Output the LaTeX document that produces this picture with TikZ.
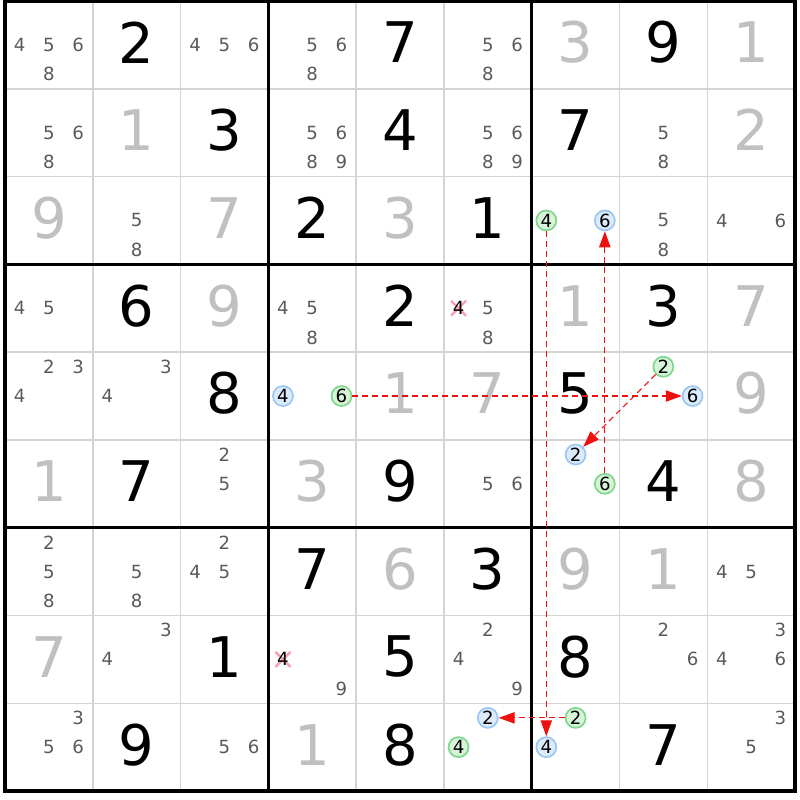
\documentclass[tikz,border=0pt]{standalone}
\usepackage{fontspec}
\setmainfont{DejaVu Sans}
\usetikzlibrary{arrows.meta}
\definecolor{solvedgray}{HTML}{C0C0C0}
\definecolor{candgray}{HTML}{5A5A5A}
\definecolor{thingrid}{HTML}{D4D4D4}
\definecolor{bluefill}{HTML}{DCEBFC}
\definecolor{blueline}{HTML}{9EC8F2}
\definecolor{greenfill}{HTML}{D8F4D8}
\definecolor{greenline}{HTML}{7ED88E}
\definecolor{xpink}{HTML}{F4A0B0}
\definecolor{linkred}{HTML}{F01010}
\tikzset{
  givenst/.style={inner sep=0pt, text=black, font=\fontsize{42}{42}\selectfont},
  solvedst/.style={inner sep=0pt, text=solvedgray, font=\fontsize{42}{42}\selectfont},
  candst/.style={inner sep=0pt, text=candgray, font=\fontsize{13.6}{14}\selectfont},
  crossdigit/.style={inner sep=0pt, text=black, font=\fontsize{13.6}{14}\selectfont},
  bluecirc/.style={circle, inner sep=0pt, minimum size=15pt, draw=blueline, fill=bluefill, line width=1.3pt, text=black, font=\fontsize{13.6}{14}\selectfont},
  greencirc/.style={circle, inner sep=0pt, minimum size=15pt, draw=greenline, fill=greenfill, line width=1.3pt, text=black, font=\fontsize{13.6}{14}\selectfont},
  xmark/.style={draw=xpink, line width=1.8pt},
  thinline/.style={draw=thingrid, line width=1.1pt},
  thickline/.style={draw=black, line width=2.3pt},
  link/.style={draw=linkred, line width=0.9pt, dash pattern=on 4.5pt off 3pt, -{Triangle[length=12pt,width=8.5pt]}}
}
\newcommand\givenD[3]{\node[givenst] (g#1#2) at ({5+(#2-0.5)*87.78},{1+(#1-0.5)*87.78-2.5}) {#3};}
\newcommand\solvedD[3]{\node[solvedst] (s#1#2) at ({5+(#2-0.5)*87.78},{1+(#1-0.5)*87.78-2.5}) {#3};}
\newcommand\cands[3]{\foreach \d in {#3}{\node[candst] (c#1#2n\d) at ({5+(#2-0.5)*87.78+(mod(\d-1,3)-1)*29.26},{1+(#1-0.5)*87.78+(div(\d-1,3)-1)*29.26}) {\d};}}
\newcommand\blueC[3]{\node[bluecirc] (c#1#2n#3) at ({5+(#2-0.5)*87.78+(mod(#3-1,3)-1)*29.26},{1+(#1-0.5)*87.78+(div(#3-1,3)-1)*29.26}) {#3};}
\newcommand\greenC[3]{\node[greencirc] (c#1#2n#3) at ({5+(#2-0.5)*87.78+(mod(#3-1,3)-1)*29.26},{1+(#1-0.5)*87.78+(div(#3-1,3)-1)*29.26}) {#3};}
\newcommand\crossC[3]{\coordinate (x#1#2n#3) at ({5+(#2-0.5)*87.78+(mod(#3-1,3)-1)*29.26},{1+(#1-0.5)*87.78+(div(#3-1,3)-1)*29.26});
  \draw[xmark] (x#1#2n#3) ++(-7.5,-7.5) -- ++(15,15);
  \draw[xmark] (x#1#2n#3) ++(-7.5,7.5) -- ++(15,-15);
  \node[crossdigit] (c#1#2n#3) at (x#1#2n#3) {#3};}
\begin{document}
\begin{tikzpicture}[x=0.75pt,y=-0.75pt]
\useasboundingbox (0,0) rectangle (800,800);
\fill[white] (0,0) rectangle (800,800);
% thin grid
\foreach \i in {1,2,4,5,7,8}{
  \draw[thinline] ({5+\i*87.78},1) -- ({5+\i*87.78},791);
  \draw[thinline] (5,{1+\i*87.78}) -- (795,{1+\i*87.78});
}
% row 1
\cands{1}{1}{4,5,6,8} \givenD{1}{2}{2} \cands{1}{3}{4,5,6} \cands{1}{4}{5,6,8} \givenD{1}{5}{7}
\cands{1}{6}{5,6,8} \solvedD{1}{7}{3} \givenD{1}{8}{9} \solvedD{1}{9}{1}
% row 2
\cands{2}{1}{5,6,8} \solvedD{2}{2}{1} \givenD{2}{3}{3} \cands{2}{4}{5,6,8,9} \givenD{2}{5}{4}
\cands{2}{6}{5,6,8,9} \givenD{2}{7}{7} \cands{2}{8}{5,8} \solvedD{2}{9}{2}
% row 3
\solvedD{3}{1}{9} \cands{3}{2}{5,8} \solvedD{3}{3}{7} \givenD{3}{4}{2} \solvedD{3}{5}{3}
\givenD{3}{6}{1} \greenC{3}{7}{4} \blueC{3}{7}{6} \cands{3}{8}{5,8} \cands{3}{9}{4,6}
% row 4
\cands{4}{1}{4,5} \givenD{4}{2}{6} \solvedD{4}{3}{9} \cands{4}{4}{4,5,8} \givenD{4}{5}{2}
\crossC{4}{6}{4} \cands{4}{6}{5,8} \solvedD{4}{7}{1} \givenD{4}{8}{3} \solvedD{4}{9}{7}
% row 5
\cands{5}{1}{2,3,4} \cands{5}{2}{3,4} \givenD{5}{3}{8} \blueC{5}{4}{4} \greenC{5}{4}{6}
\solvedD{5}{5}{1} \solvedD{5}{6}{7} \givenD{5}{7}{5} \greenC{5}{8}{2} \blueC{5}{8}{6} \solvedD{5}{9}{9}
% row 6
\solvedD{6}{1}{1} \givenD{6}{2}{7} \cands{6}{3}{2,5} \solvedD{6}{4}{3} \givenD{6}{5}{9}
\cands{6}{6}{5,6} \blueC{6}{7}{2} \greenC{6}{7}{6} \givenD{6}{8}{4} \solvedD{6}{9}{8}
% row 7
\cands{7}{1}{2,5,8} \cands{7}{2}{5,8} \cands{7}{3}{2,4,5} \givenD{7}{4}{7} \solvedD{7}{5}{6}
\givenD{7}{6}{3} \solvedD{7}{7}{9} \solvedD{7}{8}{1} \cands{7}{9}{4,5}
% row 8
\solvedD{8}{1}{7} \cands{8}{2}{3,4} \givenD{8}{3}{1} \crossC{8}{4}{4} \cands{8}{4}{9}
\givenD{8}{5}{5} \cands{8}{6}{2,4,9} \givenD{8}{7}{8} \cands{8}{8}{2,6} \cands{8}{9}{3,4,6}
% row 9
\cands{9}{1}{3,5,6} \givenD{9}{2}{9} \cands{9}{3}{5,6} \solvedD{9}{4}{1} \givenD{9}{5}{8}
\blueC{9}{6}{2} \greenC{9}{6}{4} \greenC{9}{7}{2} \blueC{9}{7}{4} \givenD{9}{8}{7} \cands{9}{9}{3,5}
% thick grid
\foreach \i in {3,6}{
  \draw[thickline] ({5+\i*87.78},1) -- ({5+\i*87.78},791);
  \draw[thickline] (5,{1+\i*87.78}) -- (795,{1+\i*87.78});
}
\draw[thickline] (5,1) rectangle (795,791);
% links
\draw[link] (c37n4) -- (c97n4);
\draw[link] (c67n6) -- (c37n6);
\draw[link] (c54n6) -- (c58n6);
\draw[link] (c58n2) -- (c67n2);
\draw[link] (c97n2) -- (c96n2);
\end{tikzpicture}
\end{document}
